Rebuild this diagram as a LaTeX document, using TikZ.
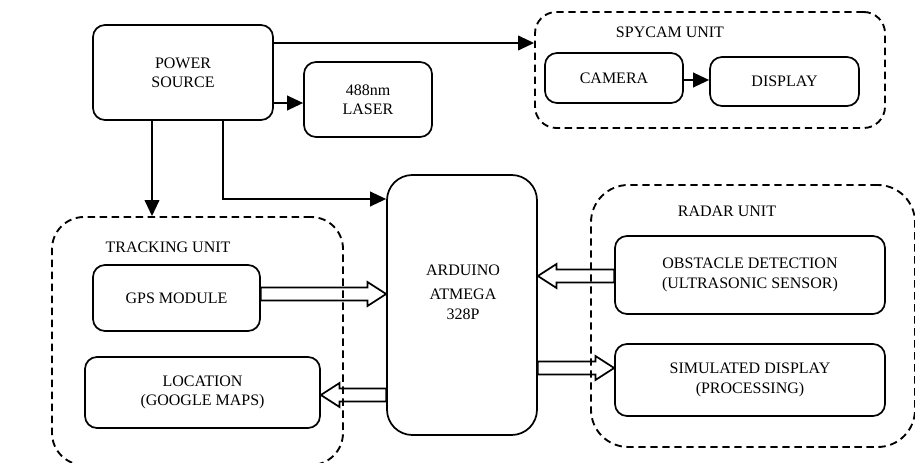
\documentclass[tikz,border=0pt]{standalone}
\usepackage{fontspec}
\setmainfont{Liberation Serif}
\usetikzlibrary{arrows.meta,calc}

\tikzset{
    block/.style={draw, line width=1.3pt, rounded corners=9pt, align=center, inner sep=0pt},
    unit/.style={draw, line width=1.4pt, dash pattern=on 5.5pt off 3.5pt, rounded corners=24pt, inner sep=0pt},
    arr/.style={line width=1.3pt, -{Triangle[length=12pt,width=11pt]}},
    fat/.style={line width=1.3pt, line join=miter}
}
% hollow arrow from #1 to #2 (same height)
\newcommand{\fatarrow}[2]{%
    \draw[fat] let \p1=(#1), \p2=(#2), \n1={sign(\x2-\x1)} in
        (\x1,\y1+4.8pt) -- ({\x2-14pt*\n1},\y1+4.8pt) -- ({\x2-14pt*\n1},\y1+9pt) -- (\x2,\y1)
        -- ({\x2-14pt*\n1},\y1-9pt) -- ({\x2-14pt*\n1},\y1-4.8pt) -- (\x1,\y1-4.8pt) -- cycle;}

\begin{document}
\begin{tikzpicture}[x=0.75pt, y=-0.75pt, font=\fontsize{12}{14.5}\selectfont]
        \useasboundingbox (0,0) rectangle (915,463);
        % blocks
        \node[block, minimum width=135pt, minimum height=71.25pt] (power) at (183,72.5) {POWER\\SOURCE};
        \node[block, minimum width=96pt, minimum height=56.25pt] (laser) at (368,99.5) {488nm\\LASER};
        \node[block, minimum width=103.5pt, minimum height=37.5pt] (cam) at (614,78) {CAMERA};
        \node[block, minimum width=111.75pt, minimum height=36.75pt] (disp) at (784.5,81.5) {DISPLAY};
        \node[block, minimum width=125.25pt, minimum height=49.5pt] (gps) at (176.5,298) {GPS MODULE};
        \node[block, minimum width=176.25pt, minimum height=53.25pt] (loc) at (202.5,392.5) {LOCATION\\(GOOGLE MAPS)};
        \node[block, rounded corners=19pt, minimum width=112.5pt, minimum height=195pt] (ard) at (462,305) {};
        \node[align=center] (ardtxt) at (463,292) {ARDUINO\\[4pt]ATMEGA\\328P};
        \node[block, minimum width=202.5pt, minimum height=58.5pt] (obs) at (750,275) {OBSTACLE DETECTION\\(ULTRASONIC SENSOR)};
        \node[block, minimum width=202.5pt, minimum height=54pt] (sim) at (750,380) {SIMULATED DISPLAY\\(PROCESSING)};
        % units
        \node[unit, rounded corners=16pt, minimum width=262.5pt, minimum height=87pt] (spy) at (710,70) {};
        \node[unit, minimum width=218.25pt, minimum height=186pt] (track) at (197.5,341) {};
        \node[unit, rounded corners=28pt, minimum width=243pt, minimum height=196.5pt] (radar) at (753,316) {};
        \node (spylbl) at (670,32) {SPYCAM UNIT};
        \node (tracklbl) at (168,247) {TRACKING UNIT};
        \node (radarlbl) at (727,211) {RADAR UNIT};
        % power lines
        \draw[arr] (power.east |- 0,43) -- (spy.west |- 0,43);
        \draw[arr] (power.east |- 0,103) -- (laser.west |- 0,103);
        \draw[arr] (power.south -| 152,0) -- (track.north -| 152,0);
        \draw[arr] (power.south -| 223,0) |- (ard.west |- 0,199);
        \draw[arr] (cam.east |- 0,80) -- (disp.west |- 0,80);
        % data lines
        \fatarrow{gps.east |- 0,294}{ard.west |- 0,294}
        \fatarrow{ard.west |- 0,395}{loc.east |- 0,395}
        \fatarrow{obs.west |- 0,276}{ard.east |- 0,276}
        \fatarrow{ard.east |- 0,368}{sim.west |- 0,368}
\end{tikzpicture}
\end{document}
